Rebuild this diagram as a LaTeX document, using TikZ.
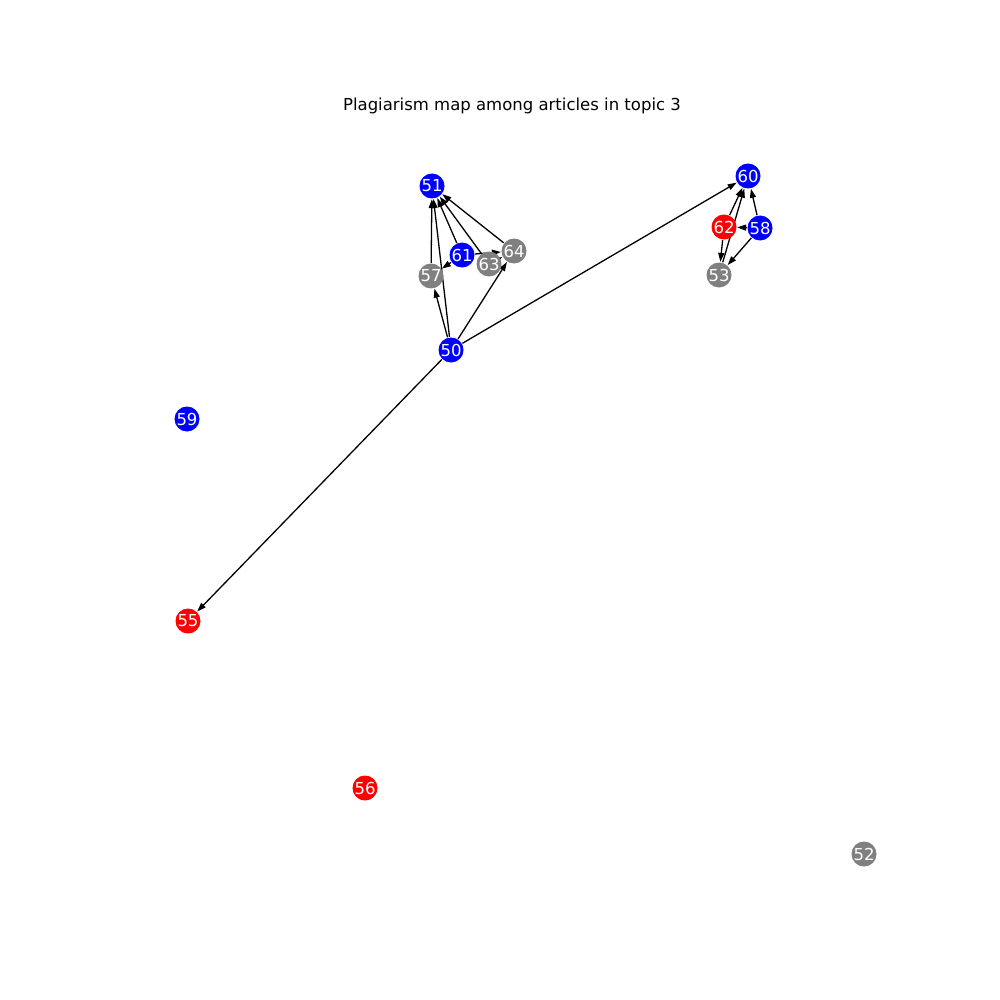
\documentclass[tikz,border=0pt]{standalone}
\usepackage{fontspec}
\setmainfont{DejaVu Sans}
\usetikzlibrary{arrows.meta, backgrounds}

\begin{document}
\begin{tikzpicture}[x=1pt, y=-1pt,
  -{Triangle[length=9pt,width=6pt]}, line width=1.3pt,
  every edge/.append style = {line width=1.3pt},
  article/.style = {circle, minimum size=25pt, inner sep=0pt, text=white,
    font=\fontsize{16.5}{18}\selectfont},
  copier/.style = {article, fill=red},
  original/.style = {article, fill=blue},
  unknown/.style = {article, fill={rgb,255:red,128;green,128;blue,128}}]
\useasboundingbox (0,0) rectangle (1000,1000);
\node[font=\fontsize{16.5}{18}\selectfont] (title) at (512,106) {Plagiarism map among articles in topic 3};
% left cluster
\node[original] (n51) at (432,186) {51};
\node[original] (n61) at (462,255) {61};
\node[unknown]  (n64) at (514,251) {64};
\node[unknown]  (n63) at (489,264) {63};
\node[unknown]  (n57) at (431,276) {57};
\node[original] (n50) at (451,350) {50};
% right cluster
\node[original] (n60) at (748,176) {60};
\node[copier]   (n62) at (724,227) {62};
\node[original] (n58) at (760,228) {58};
\node[unknown]  (n53) at (719,275) {53};
% loose ones
\node[original] (n59) at (187,419) {59};
\node[copier]   (n55) at (188,621) {55};
\node[copier]   (n56) at (365,788) {56};
\node[unknown]  (n52) at (864,854) {52};
\begin{pgfonlayer}{background}
\draw (n50) edge (n51) edge (n57) edge (n64) edge (n60) edge (n55);
\draw (n57) edge (n51);
\draw (n61) edge (n51) edge (n57) edge (n64);
\draw (n63) edge (n51) edge (n64);
\draw (n64) edge (n51);
\draw (n58) edge (n60) edge (n62) edge (n53);
\draw (n62) edge (n60) edge (n53);
\draw (n53) edge (n60);
\end{pgfonlayer}
\end{tikzpicture}
\end{document}
